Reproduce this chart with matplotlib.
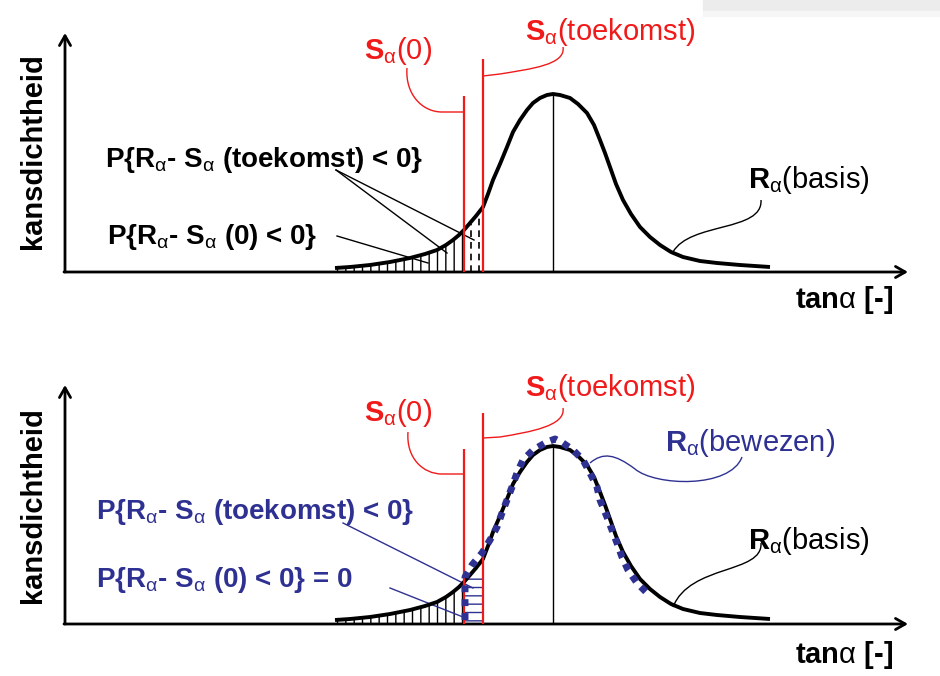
import matplotlib
matplotlib.use("Agg")
import matplotlib.pyplot as plt
from matplotlib.patches import Rectangle, PathPatch
from matplotlib.path import Path
import numpy as np

plt.rcParams.update({
    "font.family": ["Liberation Sans", "DejaVu Sans"],
    "mathtext.fontset": "custom",
    "mathtext.rm": "Liberation Sans",
    "mathtext.it": "Liberation Sans",
    "mathtext.bf": "Liberation Sans:bold",
    "hatch.linewidth": 1.0,
})

# R(basis) density curve (x = tan alpha position, h = density)
basis_x = [335, 350, 370, 390, 410, 425, 437, 446, 453, 459, 464, 470, 476, 483, 488,
           493, 500, 507, 513, 520, 527, 533, 540, 547, 553, 560, 570, 578, 587, 594,
           600, 605, 610, 616, 623, 631, 640, 650, 660, 671, 683, 700, 717, 740, 770]
basis_h = [4, 5, 7, 10, 14, 18, 22, 27, 32, 37, 42, 49, 56, 65, 78,
           92, 108, 125, 140, 152, 162, 169, 174, 177, 178, 177, 174, 168, 159, 147,
           132, 119, 105, 88, 72, 58, 45, 35, 27, 20, 15, 11, 9, 7, 5]

# R(bewezen) curve (bottom panel), starts on the S(0) line
proven_x = [465, 465, 465, 465, 472, 482, 490, 497, 502, 507, 512, 517, 523, 533, 547,
            555, 563, 573, 583, 590, 597, 600, 607, 612, 617, 622, 628, 637, 647]
proven_h = [4, 18, 32, 47, 59, 71, 84, 97, 111, 124, 137, 151, 164, 174, 182,
            185, 181, 174, 164, 151, 137, 124, 107, 94, 81, 67, 54, 41, 31]

s0_x, s_fut_x, mode_x = 464, 483, 553
s0_top = [176, 175]        # top / bottom panel
s_fut_top = [213, 211]
dash_x = [471, 479]
dash_top = [48, 58]
blue_band_top = 50

RED = "#f01a1a"
BLUE = "#2e3192"
FS = 21

fig = plt.figure(figsize=(9.4, 6.76), dpi=100)
fig.patches.append(Rectangle((703 / 940, 665 / 676), 237 / 940, 11 / 676,
                             transform=fig.transFigure, color="#ececec", zorder=0))
fig.patches.append(Rectangle((703 / 940, 660 / 676), 237 / 940, 5 / 676,
                             transform=fig.transFigure, color="#f6f6f6", zorder=0))

ax_top = fig.add_axes([0, 0.5, 1, 0.5])
ax_top.set_xlim(0, 940)
ax_top.set_ylim(-66, 272)
ax_bot = fig.add_axes([0, 0, 1, 0.5])
ax_bot.set_xlim(0, 940)
ax_bot.set_ylim(-52, 286)

bx = np.array(basis_x)
bh = np.array(basis_h)


def leader(ax, pts, color, tail=None):
    # pts: bezier start + groups of 3 control points; optional straight tail
    codes = [Path.MOVETO] + [Path.CURVE4] * (len(pts) - 1)
    verts = list(pts)
    if tail is not None:
        verts.append(tail)
        codes.append(Path.LINETO)
    ax.add_patch(PathPatch(Path(verts, codes), facecolor="none", edgecolor=color, lw=1))


def draw_axes(ax, ylab_h, tan_h):
    arrow = dict(arrowstyle="->,head_length=0.7,head_width=0.4", lw=2, color="black",
                 shrinkA=0, shrinkB=0)
    ax.annotate("", xy=(65, 239), xytext=(65, 0), arrowprops=arrow, annotation_clip=False)
    ax.annotate("", xy=(908, 0), xytext=(64, 0), arrowprops=arrow, annotation_clip=False)
    ax.text(33, ylab_h, "kansdichtheid", rotation=90, ha="center", va="center",
            fontsize=FS, fontweight="bold")
    ax.text(893, tan_h, r"tan$\alpha$ [-]", ha="right", va="center", fontsize=FS,
            fontweight="bold")
    ax.set_axis_off()


def draw_basis(ax, s_top, sfut_top):
    ax.fill_between(bx, 0, bh, where=bx <= s0_x, facecolor="none", edgecolor="black",
                    hatch="||", linewidth=0)
    ax.plot(bx, bh, color="black", lw=2.8, solid_capstyle="butt", zorder=4)
    ax.vlines(mode_x, 0, bh.max(), color="black", lw=1)
    ax.vlines(s0_x, 0, s_top, color=RED, lw=1.6, zorder=5)
    ax.vlines(s_fut_x, 0, sfut_top, color=RED, lw=1.6, zorder=5)


# ---- top panel
draw_axes(ax_top, 121, -28)
draw_basis(ax_top, s0_top[0], s_fut_top[0])
ax_top.vlines(dash_x, 0, dash_top, color="black", lw=1.2, linestyles=(0, (4, 3)))

leader(ax_top, [(407, 204), (405, 178), (422, 160), (442, 160)], RED, tail=(464, 160))
leader(ax_top, [(563, 225), (566, 207), (530, 203), (500, 198)], RED, tail=(483, 196))
leader(ax_top, [(761, 72), (763, 40), (690, 50), (673, 20)], "black")
ax_top.plot([336, 447], [102, 19], color="black", lw=1)
ax_top.plot([336, 474], [102, 32], color="black", lw=1)
ax_top.plot([337, 428], [36, 9], color="black", lw=1)

ax_top.text(398, 221, r"$\mathbf{S}_\alpha$(0)", ha="center", va="center", fontsize=FS,
            color=RED)
ax_top.text(610, 240, r"$\mathbf{S}_\alpha$(toekomst)", ha="center", va="center",
            fontsize=FS, color=RED)
ax_top.text(105, 112, r"P{R$_\alpha$- S$_\alpha$ (toekomst) < 0}", ha="left", va="center",
            fontsize=FS - 1, fontweight="bold")
ax_top.text(107, 35, r"P{R$_\alpha$- S$_\alpha$ (0) < 0}", ha="left", va="center",
            fontsize=FS - 1, fontweight="bold")
ax_top.text(748, 92, r"$\mathbf{R}_\alpha$(basis)", ha="left", va="center", fontsize=FS)

# ---- bottom panel
draw_axes(ax_bot, 119, -31)
ax_bot.fill_between([s0_x + 1, s_fut_x], 0, blue_band_top, facecolor="none", edgecolor=BLUE,
                    hatch="--", linewidth=0)
draw_basis(ax_bot, s0_top[1], s_fut_top[1])
ax_bot.plot(proven_x, proven_h, color=BLUE, lw=5, linestyle=(0, (1, 1)), zorder=6)

leader(ax_bot, [(408, 192), (406, 166), (423, 150), (442, 150)], RED, tail=(465, 150))
leader(ax_bot, [(563, 216), (566, 198), (530, 192), (500, 187)], RED, tail=(483, 186))
leader(ax_bot, [(590, 161), (603, 172), (615, 170), (635, 155),
                (655, 138), (730, 135), (742, 167)], BLUE)
leader(ax_bot, [(761, 81), (763, 50), (690, 60), (673, 17)], "black")
ax_bot.plot([343, 473], [101, 36], color=BLUE, lw=1)
ax_bot.plot([390, 463], [36, 7], color=BLUE, lw=1)

ax_bot.text(398, 211, r"$\mathbf{S}_\alpha$(0)", ha="center", va="center", fontsize=FS,
            color=RED)
ax_bot.text(610, 236, r"$\mathbf{S}_\alpha$(toekomst)", ha="center", va="center",
            fontsize=FS, color=RED)
ax_bot.text(665, 181, r"$\mathbf{R}_\alpha$(bewezen)", ha="left", va="center", fontsize=FS,
            color=BLUE)
ax_bot.text(96, 112, r"P{R$_\alpha$- S$_\alpha$ (toekomst) < 0}", ha="left", va="center",
            fontsize=FS - 1, fontweight="bold", color=BLUE)
ax_bot.text(96, 44, r"P{R$_\alpha$- S$_\alpha$ (0) < 0} = 0", ha="left", va="center",
            fontsize=FS - 1, fontweight="bold", color=BLUE)
ax_bot.text(748, 83, r"$\mathbf{R}_\alpha$(basis)", ha="left", va="center", fontsize=FS)

fig.savefig("out.png", dpi=100)
